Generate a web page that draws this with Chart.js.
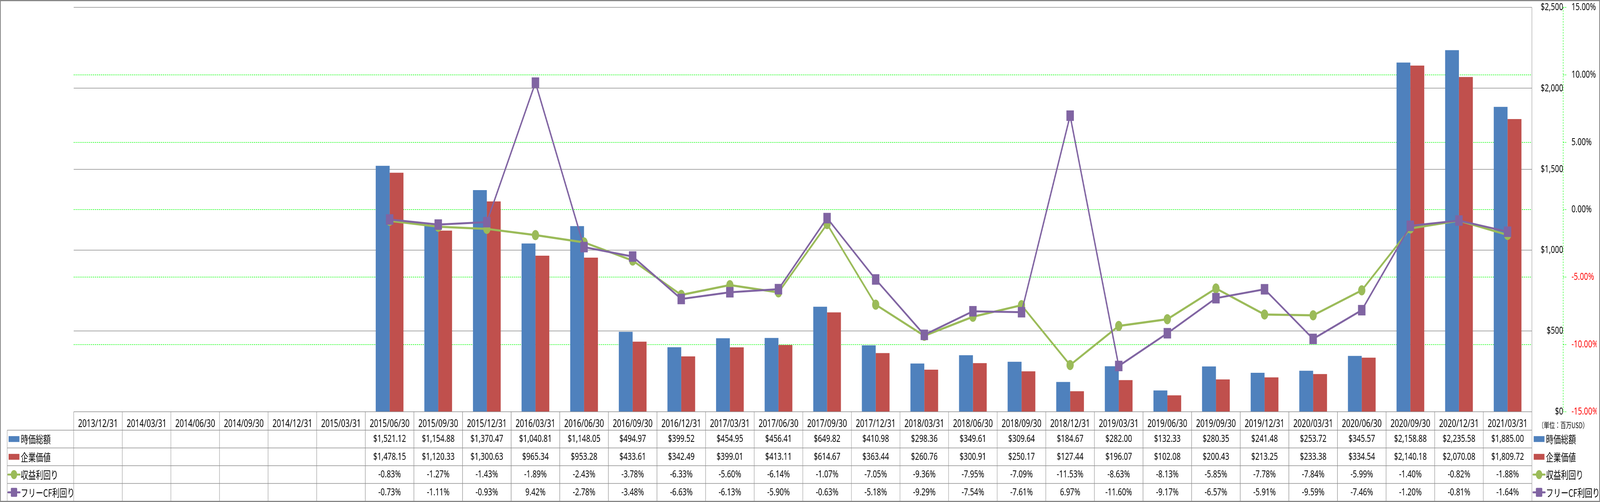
<!DOCTYPE html>
<html>
<head>
<meta charset="utf-8">
<script src="https://cdn.jsdelivr.net/npm/chart.js@4.4.1/dist/chart.umd.min.js"></script>
<style>
	html, body { margin: 0; padding: 0; background: #fff; overflow: hidden; }
	#wrap { width: 5777px; height: 1286px; transform-origin: 0 0; }
</style>
</head>
<body>
<div id="wrap"><canvas id="chart" width="5777" height="1286"></canvas></div>
<script>
	'use strict';

	// Quarter end dates.
	const categories = [
		'2013/12/31', '2014/03/31', '2014/06/30', '2014/09/30', '2014/12/31', '2015/03/31',
		'2015/06/30', '2015/09/30', '2015/12/31', '2016/03/31', '2016/06/30', '2016/09/30',
		'2016/12/31', '2017/03/31', '2017/06/30', '2017/09/30', '2017/12/31', '2018/03/31',
		'2018/06/30', '2018/09/30', '2018/12/31', '2019/03/31', '2019/06/30', '2019/09/30',
		'2019/12/31', '2020/03/31', '2020/06/30', '2020/09/30', '2020/12/31', '2021/03/31'
	];

	// Million USD.
	const marketCap = [
		null, null, null, null, null, null,
		1521.12, 1154.88, 1370.47, 1040.81, 1148.05, 494.97,
		399.52, 454.95, 456.41, 649.82, 410.98, 298.36,
		349.61, 309.64, 184.67, 282.00, 132.33, 280.35,
		241.48, 253.72, 345.57, 2158.88, 2235.58, 1885.00
	];
	const enterpriseValue = [
		null, null, null, null, null, null,
		1478.15, 1120.33, 1300.63, 965.34, 953.28, 433.61,
		342.49, 399.01, 413.11, 614.67, 363.44, 260.76,
		300.91, 250.17, 127.44, 196.07, 102.08, 200.43,
		213.25, 233.38, 334.54, 2140.18, 2070.08, 1809.72
	];

	// Percent.
	const earningsYield = [
		null, null, null, null, null, null,
		-0.83, -1.27, -1.43, -1.89, -2.43, -3.78,
		-6.33, -5.60, -6.14, -1.07, -7.05, -9.36,
		-7.95, -7.09, -11.53, -8.63, -8.13, -5.85,
		-7.78, -7.84, -5.99, -1.40, -0.82, -1.88
	];
	const fcfYield = [
		null, null, null, null, null, null,
		-0.73, -1.11, -0.93, 9.42, -2.78, -3.48,
		-6.63, -6.13, -5.90, -0.63, -5.18, -9.29,
		-7.54, -7.61, 6.97, -11.60, -9.17, -6.57,
		-5.91, -9.59, -7.46, -1.20, -0.81, -1.64
	];

	const seriesNames = ['時価総額', '企業価値', '収益利回り', 'フリーCF利回り'];
	const unitLabel = '（単位：百万USD）';

	const colors = {
		blue: '#4F81BD',
		red: '#C0504D',
		green: '#9BBB59',
		purple: '#8064A2',
		grid: '#8C8C8C',
		lime: '#00FF00'
	};

	const latinFont = "'Noto Sans', 'Liberation Sans', sans-serif";
	const cjkFont = "'Noto Sans CJK JP', 'Noto Sans', sans-serif";

	// The window can be narrower than the chart, so squeeze it to fit.
	const wrap = document.getElementById('wrap');
	const sx = Math.min(1, window.innerWidth / 5777);
	wrap.style.transform = 'scaleX(' + sx + ')';

	function money(v) {
		return '$' + v.toLocaleString('en-US', { minimumFractionDigits: 2, maximumFractionDigits: 2 });
	}

	function pct(v) {
		return v.toFixed(2) + '%';
	}

	const rows = [
		{ name: seriesNames[0], data: marketCap, fmt: money, key: 'bar', color: colors.blue },
		{ name: seriesNames[1], data: enterpriseValue, fmt: money, key: 'bar', color: colors.red },
		{ name: seriesNames[2], data: earningsYield, fmt: pct, key: 'circle', color: colors.green },
		{ name: seriesNames[3], data: fcfYield, fmt: pct, key: 'square', color: colors.purple }
	];

	function drawKey(ctx, row, cx, cy) {
		ctx.save();
		ctx.fillStyle = row.color;
		ctx.strokeStyle = row.color;
		if (row.key === 'bar') {
			ctx.fillRect(cx - 19.5, cy - 7.5, 39, 15);
		} else {
			ctx.lineWidth = 5;
			ctx.lineCap = 'round';
			ctx.beginPath();
			ctx.moveTo(cx - 21, cy);
			ctx.lineTo(cx + 21, cy);
			ctx.stroke();
			ctx.beginPath();
			if (row.key === 'circle') {
				ctx.arc(cx, cy, 11.5, 0, Math.PI * 2);
			} else {
				ctx.roundRect(cx - 11.5, cy - 11.5, 23, 23, 3);
			}
			ctx.fill();
		}
		ctx.restore();
	}

	// Keep tick padding from pushing the plot area down.
	function noVerticalPadding(scale) {
		scale.paddingTop = 0;
		scale.paddingBottom = 0;
	}

	// Data table, dashed secondary axis line, legend and frame.
	const tablePlugin = {
		id: 'dataTable',
		afterDraw(chart) {
			const ctx = chart.ctx;
			const x = chart.scales.x;
			const y1 = chart.scales.y1;
			const area = chart.chartArea;
			const n = categories.length;
			const colW = (x.right - x.left) / n;
			const top = x.bottom;
			const bottom = chart.height - 2;
			const rowH = (bottom - top) / rows.length;
			const labelLeft = 26;

			ctx.save();

			// Dashed axis line of the percent axis.
			ctx.strokeStyle = colors.lime;
			ctx.lineWidth = 1.5;
			ctx.setLineDash([4, 3]);
			ctx.beginPath();
			ctx.moveTo(y1.left, y1.top);
			ctx.lineTo(y1.left, y1.bottom);
			ctx.stroke();
			ctx.setLineDash([]);

			// Table lines.
			ctx.strokeStyle = colors.grid;
			ctx.lineWidth = 1.5;
			ctx.beginPath();
			for (let r = 0; r < rows.length; r++) {
				const yy = top + r * rowH;
				ctx.moveTo(labelLeft, yy);
				ctx.lineTo(area.right, yy);
			}
			ctx.moveTo(labelLeft, top);
			ctx.lineTo(labelLeft, bottom);
			for (let i = 0; i < n; i++) {
				const xx = x.left + i * colW;
				ctx.moveTo(xx, area.bottom);
				ctx.lineTo(xx, bottom);
			}
			ctx.moveTo(area.right, area.top);
			ctx.lineTo(area.right, bottom);
			ctx.stroke();

			// Cell values.
			ctx.fillStyle = '#000';
			ctx.textBaseline = 'middle';
			ctx.textAlign = 'center';
			ctx.font = '26px ' + latinFont;
			rows.forEach(function(row, r) {
				const cy = top + (r + 0.5) * rowH;
				row.data.forEach(function(v, i) {
					if (v === null) {
						return;
					}
					ctx.fillText(row.fmt(v), x.getPixelForValue(i), cy);
				});
			});

			// Row labels on the left and the legend on the right.
			const legendX = area.right + 26;
			rows.forEach(function(row, r) {
				const cy = top + (r + 0.5) * rowH;
				drawKey(ctx, row, labelLeft + 24.5, cy);
				drawKey(ctx, row, legendX, cy);
				ctx.fillStyle = '#000';
				ctx.textAlign = 'left';
				ctx.font = '27px ' + cjkFont;
				ctx.fillText(row.name, labelLeft + 49, cy + 1);
				ctx.fillText(row.name, legendX + 25, cy + 1);
			});

			// Unit label.
			ctx.font = '20px ' + cjkFont;
			ctx.textAlign = 'center';
			ctx.fillText(unitLabel, y1.left, area.bottom + 34);

			// Outer frame.
			ctx.strokeStyle = '#878787';
			ctx.lineWidth = 3;
			ctx.strokeRect(1.5, 1.5, chart.width - 3, chart.height - 3);

			ctx.restore();
		}
	};

	Chart.defaults.font.family = latinFont;
	Chart.defaults.color = '#000';

	new Chart(document.getElementById('chart'), {
		type: 'bar',
		data: {
			labels: categories,
			datasets: [
				{
					type: 'line',
					label: seriesNames[3],
					data: fcfYield,
					yAxisID: 'y1',
					order: 0,
					borderColor: colors.purple,
					backgroundColor: colors.purple,
					borderWidth: 5,
					pointStyle: 'rect',
					pointRadius: 19,
					pointBorderWidth: 0,
					tension: 0,
				},
				{
					type: 'line',
					label: seriesNames[2],
					data: earningsYield,
					yAxisID: 'y1',
					order: 1,
					borderColor: colors.green,
					backgroundColor: colors.green,
					borderWidth: 5.5,
					pointStyle: 'circle',
					pointRadius: 13,
					pointBorderWidth: 0,
					tension: 0,
				},
				{
					label: seriesNames[0],
					data: marketCap,
					yAxisID: 'y',
					order: 2,
					backgroundColor: colors.blue,
					barPercentage: 1,
					categoryPercentage: 0.57,
				},
				{
					label: seriesNames[1],
					data: enterpriseValue,
					yAxisID: 'y',
					order: 3,
					backgroundColor: colors.red,
					barPercentage: 1,
					categoryPercentage: 0.57,
				}
			]
		},
		options: {
			responsive: false,
			animation: false,
			devicePixelRatio: 1,
			layout: {
				padding: { left: 266, top: 19, right: 13, bottom: 184 }
			},
			plugins: {
				legend: { display: false },
				tooltip: { enabled: false }
			},
			scales: {
				x: {
					position: 'bottom',
					grid: { display: false },
					border: { display: false },
					ticks: {
						autoSkip: false,
						maxRotation: 0,
						padding: 7,
						font: { size: 27 }
					},
					afterFit: function(scale) {
						scale.height = 47;
					}
				},
				y: {
					position: 'right',
					weight: 0,
					min: 0,
					max: 2500,
					grid: {
						color: colors.grid,
						lineWidth: 1.5,
						drawTicks: false
					},
					border: { display: false },
					ticks: {
						stepSize: 500,
						crossAlign: 'far',
						padding: 28,
						font: { size: 26 },
						callback: function(v) {
							return '$' + v.toLocaleString('en-US');
						}
					},
					afterFit: function(scale) {
						scale.width = 113;
						noVerticalPadding(scale);
					}
				},
				y1: {
					position: 'right',
					weight: 1,
					min: -15,
					max: 15,
					grid: {
						color: function(c) {
							return Math.abs(c.tick.value) === 15 ? 'rgba(0,0,0,0)' : colors.lime;
						},
						lineWidth: 1.5,
						tickColor: colors.lime,
						tickLength: 11,
						tickBorderDash: [4, 3]
					},
					border: { display: false, dash: [4, 3] },
					ticks: {
						stepSize: 5,
						padding: 19,
						font: { size: 26 },
						color: function(c) {
							return c.tick.value < 0 ? '#FF0000' : '#000';
						},
						callback: function(v) {
							return v.toFixed(2) + '%';
						}
					},
					afterFit: function(scale) {
						scale.width = 120;
						noVerticalPadding(scale);
					}
				}
			}
		},
		plugins: [tablePlugin]
	});
</script>
</body>
</html>
